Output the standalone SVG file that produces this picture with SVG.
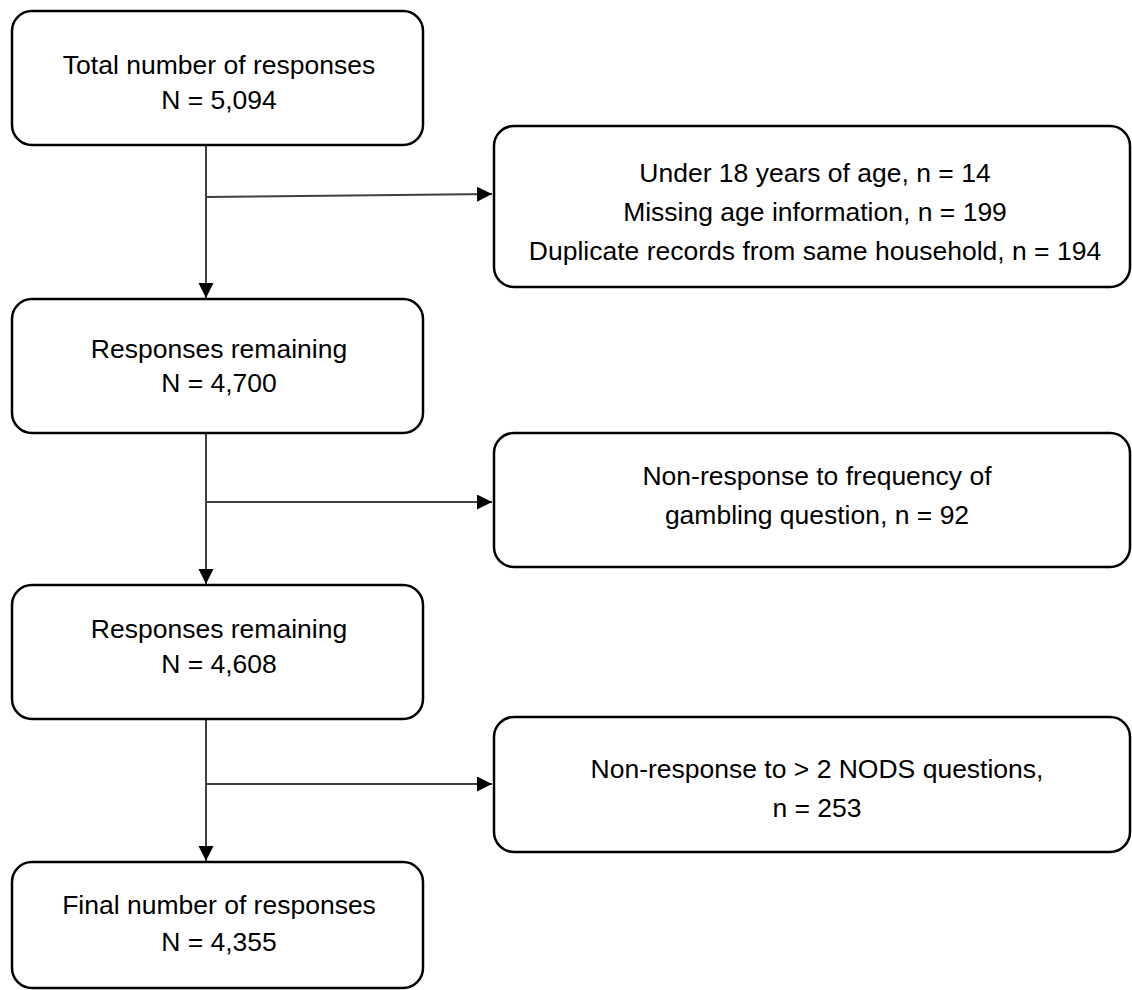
<svg xmlns="http://www.w3.org/2000/svg" width="1132" height="990" viewBox="0 0 1132 990">
<defs>
<style>
.box{fill:#fff;stroke:#000;stroke-width:2.5}
.t{font-family:"Liberation Sans",Arial,sans-serif;font-size:26.5px;fill:#000;text-anchor:middle}
.c{stroke:#404040;stroke-width:2;fill:none}
</style>
<marker id="ah" markerWidth="16" markerHeight="16" refX="15" refY="7.5" orient="auto" markerUnits="userSpaceOnUse">
<path d="M0,0 L15,7.5 L0,15 Z" fill="#000"/>
</marker>
</defs>
<rect width="1132" height="990" fill="#fff"/>
<g id="connectors">
<path class="c" d="M206,145 V298" marker-end="url(#ah)"/>
<path class="c" d="M206,197 L492,194" marker-end="url(#ah)"/>
<path class="c" d="M206,433 V584" marker-end="url(#ah)"/>
<path class="c" d="M206,502 H492" marker-end="url(#ah)"/>
<path class="c" d="M206,719 V861" marker-end="url(#ah)"/>
<path class="c" d="M206,784 H492" marker-end="url(#ah)"/>
</g>
<g id="n1">
<rect class="box" x="12" y="11" width="411" height="134" rx="20"/>
<text class="t" x="219" y="74">Total number of responses</text>
<text class="t" x="219" y="109">N = 5,094</text>
</g>
<g id="n2">
<rect class="box" x="494" y="126" width="636" height="161" rx="20"/>
<text class="t" x="815" y="182">Under 18 years of age, n = 14</text>
<text class="t" x="815" y="221">Missing age information, n = 199</text>
<text class="t" x="815" y="260">Duplicate records from same household, n = 194</text>
</g>
<g id="n3">
<rect class="box" x="12" y="299" width="411" height="134" rx="20"/>
<text class="t" x="219" y="358">Responses remaining</text>
<text class="t" x="219" y="392">N = 4,700</text>
</g>
<g id="n4">
<rect class="box" x="494" y="433" width="636" height="134" rx="20"/>
<text class="t" x="817" y="485">Non-response to frequency of</text>
<text class="t" x="817" y="524">gambling question, n = 92</text>
</g>
<g id="n5">
<rect class="box" x="12" y="585" width="411" height="134" rx="20"/>
<text class="t" x="219" y="638">Responses remaining</text>
<text class="t" x="219" y="673">N = 4,608</text>
</g>
<g id="n6">
<rect class="box" x="494" y="717" width="636" height="135" rx="20"/>
<text class="t" x="817" y="778">Non-response to &gt; 2 NODS questions,</text>
<text class="t" x="817" y="817">n = 253</text>
</g>
<g id="n7">
<rect class="box" x="12" y="862" width="411" height="126" rx="20"/>
<text class="t" x="219" y="914">Final number of responses</text>
<text class="t" x="219" y="951">N = 4,355</text>
</g>
</svg>
